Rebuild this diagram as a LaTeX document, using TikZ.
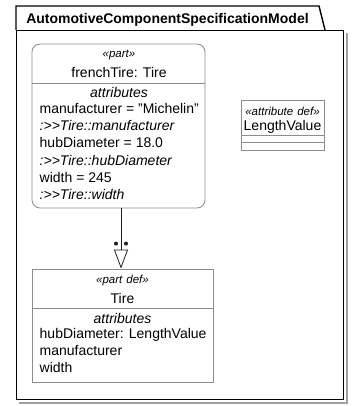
\documentclass[tikz,border=0pt]{standalone}
\usepackage{fontspec}
\setmainfont{Liberation Sans}
\usetikzlibrary{arrows.meta, calc}
\definecolor{frameInk}  {HTML}{000000}
\definecolor{boxLine}   {HTML}{8C8C8C}
\definecolor{shadowGray}{HTML}{A0A0A0}
\definecolor{linkInk}   {HTML}{1E1E1E}

\begin{document}
\begin{tikzpicture}[
    x=1pt, y=-1pt,
    box/.style={draw=boxLine, line width=0.8pt, fill=white, inner sep=0pt},
    usage/.style={box, rounded corners=8pt},
    rule/.style={draw=boxLine, line width=0.8pt},
    stereo/.style={font=\fontsize{11.5}{14}\selectfont\itshape, anchor=base, inner sep=0pt},
    plain/.style={font=\fontsize{14}{17}\selectfont, anchor=base, inner sep=0pt},
    comp/.style={plain, font=\fontsize{14}{17}\selectfont\itshape},
    attr/.style={plain, anchor=base west},
    redef/.style={attr, font=\fontsize{14}{17}\selectfont\itshape},
    definedby/.style={draw=linkInk, line width=0.8pt,
                      -{Triangle[open, length=19pt, width=14pt]}},
  ]
    \useasboundingbox (0,0) rectangle (359,406);

    % package frame with its tab and drop shadow
    \node[draw=frameInk, line width=1.4pt, inner sep=0pt, anchor=north west,
          minimum width=327pt, minimum height=369pt] (pkg) at (16,30) {};
    \draw[shadowGray, line width=1.2pt]
        ($(pkg.north east)+(2.5,3)$) -- ($(pkg.south east)+(2.5,2.5)$)
        -- ($(pkg.south west)+(3,2.5)$);
    \draw[frameInk, line width=1.4pt] (pkg.north west) -- (16,6) -- (319,6) -- (325,30);
    \node[font=\fontsize{14}{17}\selectfont\bfseries, anchor=base, inner sep=0pt]
        (pkgTitle) at (167.5,23.5) {AutomotiveComponentSpecificationModel};

    % part usage
    \node[usage, minimum width=173pt, minimum height=164pt] (frenchTire) at (118.5,126) {};
    \draw[rule] ($(frenchTire.north west)+(0,40)$) -- ($(frenchTire.north east)+(0,40)$);
    \node[stereo] (ftStereo) at (119,58) {«part»};
    \node[plain] (ftName) at (119,78) {frenchTire: Tire};
    \node[comp] (ftComp) at (119,98) {attributes};
    \foreach \sty/\txt [count=\i from 0] in {
        attr/{manufacturer = "Michelin"}, redef/{:>{}>Tire::manufacturer},
        attr/{hubDiameter = 18.0}, redef/{:>{}>Tire::hubDiameter},
        attr/{width = 245}, redef/{:>{}>Tire::width}}
      \node[\sty] (ftAttr\i) at (39.5, {113.5+17.2*\i}) {\txt};

    % attribute definition
    \node[box, minimum width=83pt, minimum height=50pt] (lengthValue) at (282.5,125) {};
    \draw[rule] ($(lengthValue.north west)+(0,36)$) -- ($(lengthValue.north east)+(0,36)$);
    \draw[rule] ($(lengthValue.north west)+(0,43)$) -- ($(lengthValue.north east)+(0,43)$);
    \node[stereo] (lvStereo) at (282.5,116) {«attribute\hspace{4pt}def»};
    \node[plain] (lvName) at (282.5,131) {LengthValue};

    % part definition
    \node[box, minimum width=181pt, minimum height=113pt] (tire) at (122.5,325.5) {};
    \draw[rule] ($(tire.north west)+(0,40)$) -- ($(tire.north east)+(0,40)$);
    \node[stereo] (tStereo) at (122.5,283) {«part\hspace{4pt}def»};
    \node[plain] (tName) at (122.5,303) {Tire};
    \node[comp] (tComp) at (122.5,323) {attributes};
    \foreach \txt [count=\i from 0] in {hubDiameter: LengthValue, manufacturer, width}
      \node[attr] (tAttr\i) at (39.5, {338.5+17.2*\i}) {\txt};

    % defined-by link
    \coordinate (link) at (121,0);
    \draw[definedby] (frenchTire.south -| link) -- (tire.north -| link);
    \fill[linkInk] ($(tire.north -| link)+(-5,-25)$) circle (2)
                   ($(tire.north -| link)+(5,-25)$) circle (2);
  \end{tikzpicture}
\end{document}
